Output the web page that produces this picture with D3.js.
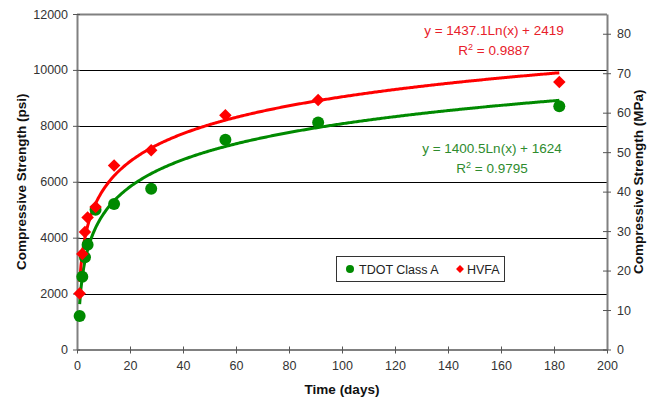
<!DOCTYPE html>
<meta charset="utf-8">
<html lang="en">
<head>
<script src="https://d3js.org/d3.v7.min.js"></script>
<style>
  body { margin: 0; background: #fff; }
  svg text { font-family: "Liberation Sans", Arial, sans-serif; }
</style>
</head>
<body>
<svg></svg>
</body>
</html>
<script>
let width = 660, height = 398;

// test ages (days)
var ages = [1, 2, 3, 4, 7, 14, 28, 56, 91, 182];
// compressive strength (psi)
var tdotPsi = [1200, 2600, 3300, 3750, 5000, 5200, 5750, 7500, 8120, 8700];
var hvfaPsi = [2000, 3420, 4200, 4720, 5100, 6580, 7130, 8380, 8920, 9570];

// log trend lines shown on the chart: y = a*Ln(x) + b
var tdotTrend = [1400.5, 1624];
var hvfaTrend = [1437.1, 2419];
var tdotLabel = ["y = 1400.5Ln(x) + 1624", "0.9795"];
var hvfaLabel = ["y = 1437.1Ln(x) + 2419", "0.9887"];

var xTicks = [0, 20, 40, 60, 80, 100, 120, 140, 160, 180, 200];
var psiTicks = [0, 2000, 4000, 6000, 8000, 10000, 12000];
var mpaTicks = [0, 10, 20, 30, 40, 50, 60, 70, 80];

var green = "#008a00", red = "#ff0000";

let svg = d3.select("svg").attr("width", width).attr("height", height);

var x = d3.scaleLinear().domain([0, 200]).range([77, 607]);
var y = d3.scaleLinear().domain([0, 12000]).range([349.5, 14]);
var y2 = d3.scaleLinear().domain([0, 85]).range([349.5, 14]);

// horizontal gridlines
svg.append("g").selectAll("line")
    .data(psiTicks.filter(d => d > 0))
    .enter().append("line")
    .attr("x1", x(0)).attr("x2", x(200))
    .attr("y1", d => Math.round(y(d)) + 0.5).attr("y2", d => Math.round(y(d)) + 0.5)
    .attr("stroke", d => d == 12000 ? "#808080" : "#000")
    .attr("stroke-width", d => d == 12000 ? 2 : 1);

// axes
function styleAxis(g) {
  g.select(".domain").attr("stroke", "#808080").attr("stroke-width", 2);
  g.selectAll(".tick line").attr("stroke", "#555");
  g.selectAll(".tick text").attr("fill", "#333").style("font-size", "12.5px");
}
var fmt = d3.format("d");

var xAxis = svg.append("g").attr("transform", "translate(0," + y(0) + ")")
  .call(d3.axisBottom(x).tickValues(xTicks).tickFormat(fmt).tickSize(4).tickSizeOuter(0).tickPadding(8));
xAxis.selectAll(".tick line").attr("y1", -3);
styleAxis(xAxis);

var yAxis = svg.append("g").attr("transform", "translate(" + x(0) + ",0)")
  .call(d3.axisLeft(y).tickValues(psiTicks).tickFormat(fmt).tickSize(4).tickSizeOuter(0).tickPadding(5));
yAxis.selectAll(".tick line").attr("x1", 3);
styleAxis(yAxis);

var y2Axis = svg.append("g").attr("transform", "translate(" + x(200) + ",0)")
  .call(d3.axisRight(y2).tickValues(mpaTicks).tickFormat(fmt).tickSize(4).tickSizeOuter(0).tickPadding(6));
y2Axis.selectAll(".tick line").attr("x1", -4);
styleAxis(y2Axis);

// axis titles
svg.append("text")
  .attr("transform", "translate(21," + (y(6000)) + ") rotate(-90)")
  .attr("text-anchor", "middle").attr("dy", "0.35em")
  .style("font-size", "13.5px").style("font-weight", "bold").attr("fill", "#111")
  .text("Compressive Strength (psi)");
svg.append("text")
  .attr("transform", "translate(638," + (y(6000)) + ") rotate(-90)")
  .attr("text-anchor", "middle").attr("dy", "0.35em")
  .style("font-size", "13.5px").style("font-weight", "bold").attr("fill", "#111")
  .text("Compressive Strength (MPa)");
svg.append("text")
  .attr("x", 342).attr("y", 394)
  .attr("text-anchor", "middle")
  .style("font-size", "13.5px").style("font-weight", "bold").attr("fill", "#111")
  .text("Time (days)");

// trend lines
function trendPts(c) {
  var pts = [];
  for (var t = 1; t <= 182; t += 0.5) pts.push([t, c[0] * Math.log(t) + c[1]]);
  return pts;
}
var line = d3.line().x(d => x(d[0])).y(d => y(d[1])).curve(d3.curveLinear);

svg.append("path").datum(trendPts(tdotTrend))
  .attr("d", line).attr("fill", "none").attr("stroke", green).attr("stroke-width", 3);
svg.append("path").datum(trendPts(hvfaTrend))
  .attr("d", line).attr("fill", "none").attr("stroke", red).attr("stroke-width", 3);

// markers
var diamond = d3.symbol().type(d3.symbolDiamond2).size(100);

svg.append("g").selectAll("circle")
  .data(ages.map((a, i) => [a, tdotPsi[i]]))
  .enter().append("circle")
  .attr("cx", d => x(d[0])).attr("cy", d => y(d[1]))
  .attr("r", 6).attr("fill", green);

svg.append("g").selectAll("path")
  .data(ages.map((a, i) => [a, hvfaPsi[i]]))
  .enter().append("path")
  .attr("d", diamond)
  .attr("transform", d => "translate(" + x(d[0]) + "," + y(d[1]) + ")")
  .attr("fill", red);

// equation labels
function eqLabel(lbl, cx, cy, col) {
  var g = svg.append("g").attr("fill", col).style("font-size", "13.5px");
  g.append("text").attr("x", cx).attr("y", cy).attr("text-anchor", "middle").text(lbl[0]);
  var t = g.append("text").attr("x", cx).attr("y", cy + 20).attr("text-anchor", "middle");
  t.append("tspan").text("R");
  t.append("tspan").attr("dy", -5).style("font-size", "9px").text("2");
  t.append("tspan").attr("dy", 5).text(" = " + lbl[1]);
}
eqLabel(hvfaLabel, 494, 35, "#e8202a");
eqLabel(tdotLabel, 492, 153, "#2e8b2e");

// legend
var leg = svg.append("g");
leg.append("rect").attr("x", 336.5).attr("y", 256.5).attr("width", 168).attr("height", 25)
  .attr("fill", "#fff").attr("stroke", "#333").attr("stroke-width", 1);
leg.append("circle").attr("cx", 350).attr("cy", 269).attr("r", 4).attr("fill", green);
leg.append("text").attr("x", 359).attr("y", 273.5).style("font-size", "12.5px").attr("fill", "#222").text("TDOT Class A");
leg.append("path").attr("d", d3.symbol().type(d3.symbolDiamond2).size(40))
  .attr("transform", "translate(460,269)").attr("fill", red);
leg.append("text").attr("x", 467).attr("y", 273.5).style("font-size", "12.5px").attr("fill", "#222").text("HVFA");
</script>
